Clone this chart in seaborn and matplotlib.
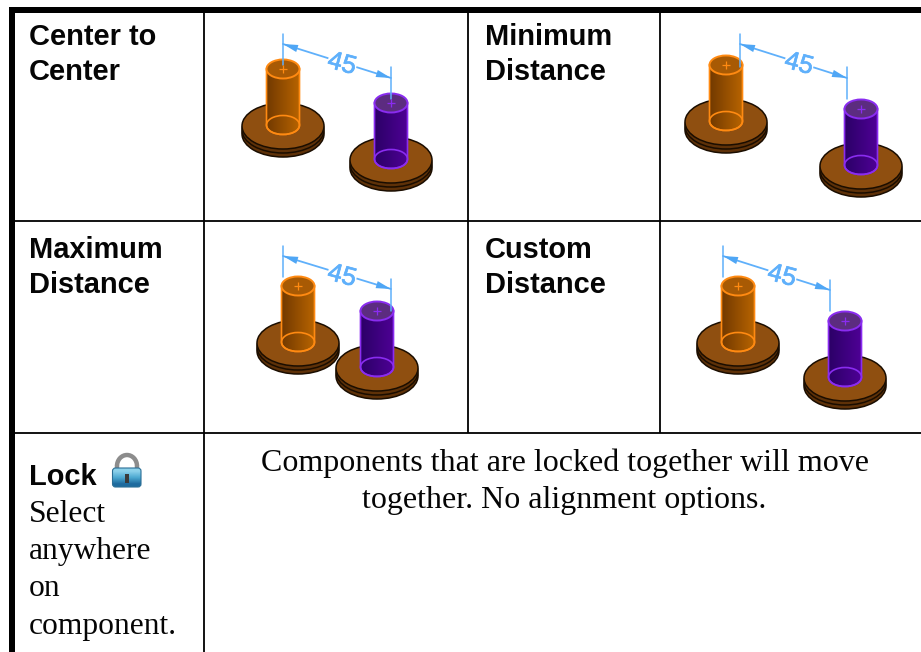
import numpy as np
import pandas as pd
import seaborn as sns
import matplotlib.pyplot as plt
import matplotlib.patheffects as pe
from matplotlib.patches import Ellipse, Rectangle, FancyBboxPatch, Arc, PathPatch
from matplotlib.path import Path

# data
titles = [["Center to", "Center"], ["Minimum", "Distance"], ["Maximum", "Distance"], ["Custom", "Distance"]]
title_x = [29, 485, 29, 485]
title_y = [45, 45, 258, 258]
dim_value = "45"

# pin tops in each picture
orange_x = [283, 726, 298, 738]
orange_y = [69, 65, 286, 286]
purple_x = [391, 861, 377, 845]
purple_y = [103, 109, 311, 321]

# dimension lines: ends, extension lines, label
dim_x0 = [283, 740, 283, 723]
dim_y0 = [44, 44, 256, 256]
dim_x1 = [391, 847, 391, 830]
dim_y1 = [78, 78, 289, 290]
ext0_y = [[34, 65], [34, 67], [246, 277], [246, 277]]
ext1_y = [[67, 99], [67, 99], [279, 311], [280, 311]]
label_x = [342, 799, 342, 782]
label_y = [64, 64, 276, 276]

lock_title = "Lock"
lock_lines = ["Select", "anywhere", "on", "component."]
lock_line_y = [522, 559, 596, 634]
note_lines = ["Components that are locked together will move", "together. No alignment options."]

col_lines = [204, 468, 660]
row_lines = [221, 433]

BLUE = "#5fb0fb"
DISC = "#8f4f10"
DISC_SIDE = "#5e3108"

sns.set_theme(style="white")
plt.rcParams["font.family"] = ["Liberation Sans", "DejaVu Sans"]

fig = plt.figure(figsize=(9.21, 6.52), dpi=100)
ax = fig.add_axes([0, 0, 1, 1])
ax.set_xlim(0, 921)
ax.set_ylim(652, 0)
ax.axis("off")


def gradient(x0, x1, y0, y1, c0, c1, clip, z):
    cols = np.array([plt.matplotlib.colors.to_rgb(c0), plt.matplotlib.colors.to_rgb(c1)])
    t = np.linspace(0, 1, 40)
    img = (cols[0] * (1 - t)[:, None] + cols[1] * t[:, None])[None, :, :]
    im = ax.imshow(img, extent=[x0, x1, y1, y0], aspect="auto", zorder=z)
    im.set_clip_path(clip)


def pin(cx, cy, dark, light, top, edge, z):
    rx, ry, h = 16.5, 9.5, 56
    # base: two stacked discs with a groove
    for off, col in [(65, DISC_SIDE), (61, DISC_SIDE), (57, DISC)]:
        ax.add_patch(Ellipse((cx, cy + off), 82, 46, fc=col, ec="#1a0d00", lw=1.1, zorder=z))
    # body
    body = Path(
        [(cx - rx, cy), (cx + rx, cy), (cx + rx, cy + h), (cx + rx, cy + h + ry * 1.33), (cx - rx, cy + h + ry * 1.33), (cx - rx, cy + h), (cx - rx, cy)],
        [Path.MOVETO, Path.LINETO, Path.LINETO, Path.CURVE4, Path.CURVE4, Path.CURVE4, Path.CLOSEPOLY],
    )
    patch = PathPatch(body, fc="none", ec=edge, lw=1.2, zorder=z + 2)
    ax.add_patch(patch)
    gradient(cx - rx, cx + rx, cy, cy + h + ry + 1, dark, light, patch, z + 1)
    ax.add_patch(Ellipse((cx, cy + h), 2 * rx, 2 * ry, fc="none", ec=edge, lw=1.2, zorder=z + 2))
    ax.add_patch(Ellipse((cx, cy), 2 * rx, 2 * ry, fc=top, ec=edge, lw=1.4, zorder=z + 2))


for i in range(4):
    # the right pin is drawn over the left one, as in the max distance picture
    pin(orange_x[i], orange_y[i], "#733a00", "#b86400", "#a85a04", "#ff8a12", 3)
    pin(purple_x[i], purple_y[i], "#2c0068", "#4f0096", "#5c2c80", "#8a2cf0", 6)

    dim = pd.DataFrame({"x": [dim_x0[i], dim_x1[i]], "y": [dim_y0[i], dim_y1[i]]})
    sns.lineplot(data=dim, x="x", y="y", color=BLUE, lw=1.3, sort=False, ax=ax, zorder=10, estimator=None)
    for x, ys in [(dim_x0[i], ext0_y[i]), (dim_x1[i], ext1_y[i])]:
        ext = pd.DataFrame({"x": [x, x], "y": ys})
        sns.lineplot(data=ext, x="x", y="y", color=BLUE, lw=1.1, sort=False, ax=ax, zorder=10, estimator=None)

    # arrow heads at both ends
    frac = 13 / np.hypot(dim_x1[i] - dim_x0[i], dim_y1[i] - dim_y0[i])
    dx = (dim_x1[i] - dim_x0[i]) * frac
    dy = (dim_y1[i] - dim_y0[i]) * frac
    for ex, ey, sx, sy in [(dim_x0[i], dim_y0[i], dx, dy), (dim_x1[i], dim_y1[i], -dx, -dy)]:
        ax.annotate("", xy=(ex, ey), xytext=(ex + sx, ey + sy), zorder=11,
                    arrowprops=dict(arrowstyle="-|>,head_length=0.9,head_width=0.22", color="#4fa6f5", lw=0, shrinkA=0, shrinkB=0))

    ax.text(label_x[i], label_y[i], dim_value, color=BLUE, fontsize=18.5, rotation=-15, ha="center", va="center",
            zorder=12, bbox=dict(fc="white", ec="none", pad=0.2),
            path_effects=[pe.withStroke(linewidth=0.5, foreground=BLUE)])

    for line, y in zip(titles[i], [title_y[i], title_y[i] + 35]):
        ax.text(title_x[i], y, line, fontsize=20.9, fontweight="bold", color="#050505", va="baseline", ha="left")

# centre marks on the pin tops
marks = pd.DataFrame({"x": orange_x + purple_x, "y": orange_y + purple_y,
                      "pin": ["o"] * 4 + ["p"] * 4})
sns.scatterplot(data=marks, x="x", y="y", hue="pin", palette={"o": "#ff8a12", "p": "#8a2cf0"},
                marker="+", s=40, linewidth=0.9, legend=False, ax=ax, zorder=13)
ax.set_xlabel("")
ax.set_ylabel("")

# table rules
ax.add_patch(Rectangle((9, 7), 912, 6, fc="black", ec="none", zorder=20))
ax.add_patch(Rectangle((9, 7), 6, 645, fc="black", ec="none", zorder=20))
for y in row_lines:
    ax.plot([12, 921], [y, y], color="black", lw=1.3, zorder=20, solid_capstyle="butt")
ax.plot([col_lines[0]] * 2, [10, 652], color="black", lw=1.3, zorder=20, solid_capstyle="butt")
for x in col_lines[1:]:
    ax.plot([x, x], [10, row_lines[1]], color="black", lw=1.3, zorder=20, solid_capstyle="butt")

# lock cell
ax.text(29, 485, lock_title, fontsize=20.9, fontweight="bold", color="#050505", va="baseline")
for line, y in zip(lock_lines, lock_line_y):
    ax.text(29, y, line, fontsize=22.7, family=["Liberation Serif"], color="#050505", va="baseline")
for line, y in zip(note_lines, [471, 508]):
    ax.text(564.5, y, line, fontsize=23, family=["Liberation Serif"], color="#050505", va="baseline", ha="center")

# lock icon
ax.add_patch(Arc((127, 466), 20, 22, theta1=180, theta2=360, ec="#8c8c8c", lw=3.2, zorder=5))
ax.plot([117, 117], [466, 471], color="#8c8c8c", lw=3.2, zorder=5)
ax.plot([137, 137], [466, 471], color="#8c8c8c", lw=3.2, zorder=5)
lock_box = FancyBboxPatch((112.5, 468), 28.5, 19, boxstyle="round,pad=0,rounding_size=3", fc="none", ec="#2b6f96", lw=0.8, zorder=7)
ax.add_patch(lock_box)
img = np.array([[[0.55, 0.82, 0.92]], [[0.30, 0.66, 0.82]], [[0.12, 0.42, 0.62]]])
im = ax.imshow(img, extent=[112.5, 141, 487, 468], aspect="auto", interpolation="bilinear", zorder=6)
im.set_clip_path(lock_box)
ax.add_patch(Rectangle((125, 474), 3.5, 9, fc="#3a3a3a", ec="none", zorder=8))
ax.set_xlim(0, 921)
ax.set_ylim(652, 0)

fig.savefig("out.png", dpi=100)
